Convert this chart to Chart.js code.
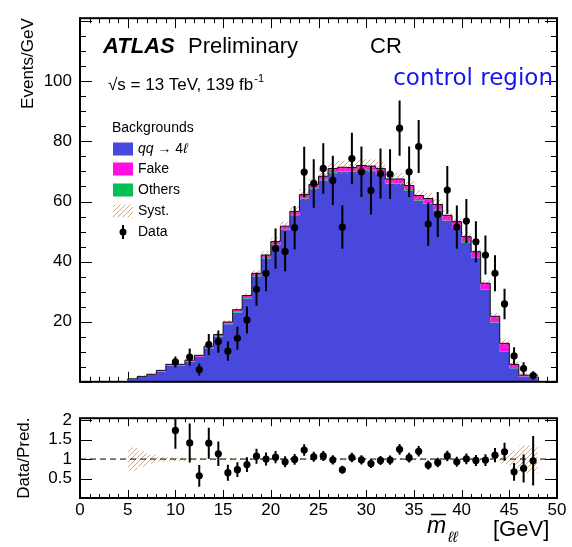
<!DOCTYPE html>
<html>
<head>
<meta charset="utf-8">
<script src="https://cdn.jsdelivr.net/npm/chart.js@4/dist/chart.umd.min.js"></script>
<style>
  html, body { margin: 0; padding: 0; background: #fff; }
  #wrap { position: relative; width: 572px; height: 547px; }
  #mainPanel { position: absolute; left: 0; top: 0; }
  #ratioPanel { position: absolute; left: 0; top: 400px; }
</style>
</head>
<body>
<div id="wrap">
  <canvas id="mainPanel" width="572" height="400"></canvas>
  <canvas id="ratioPanel" width="572" height="147"></canvas>
</div>
<script>
// Binning of the m_ll distribution (GeV); the 9-11 GeV bin is 2 GeV wide
const binEdges = [5,6,7,8,9,11,12,13,14,15,16,17,18,19,20,21,22,23,24,25,26,27,28,29,30,31,32,33,34,35,36,37,38,39,40,41,42,43,44,45,46,47,48];

// Background predictions, events/GeV per bin
const qq4lYield = [0.33,0.87,1.6,2.25,3.42,5.35,6.7,8.23,11.18,15.0,19.15,23.1,27.7,35.0,41.0,45.5,50.5,55.4,60.9,64.3,67.0,69.6,69.9,69.8,70.5,70.3,69.4,65.9,65.8,63.6,60.2,59.2,57.1,53.5,51.3,46.3,41.2,30.7,19.65,9.9,4.55,1.77];
const fakeYield = [0.05,0.1,0.15,0.2,0.3,0.35,0.4,0.45,0.5,0.55,0.6,0.7,0.8,0.9,1.0,1.0,1.1,1.1,1.2,1.2,1.2,1.2,1.3,1.3,1.3,1.3,1.4,1.4,1.5,1.5,1.6,1.6,1.7,1.7,1.8,1.8,1.9,1.9,2.0,2.8,1.2,0.4];
const othersYield = [0.02,0.03,0.05,0.05,0.08,0.1,0.1,0.12,0.12,0.15,0.15,0.2,0.2,0.2,0.2,0.2,0.2,0.2,0.2,0.2,0.2,0.2,0.2,0.2,0.2,0.2,0.2,0.2,0.2,0.2,0.2,0.2,0.2,0.2,0.2,0.2,0.2,0.2,0.15,0.1,0.05,0.03];

// Relative systematic uncertainty on the total prediction
const systRel = [0.35,0.3,0.2,0.12,0.06,0.05,0.03,0.03,0.03,0.03,0.03,0.03,0.03,0.03,0.03,0.03,0.03,0.03,0.03,0.03,0.03,0.03,0.03,0.03,0.03,0.03,0.03,0.03,0.03,0.03,0.03,0.03,0.03,0.03,0.03,0.03,0.03,0.03,0.05,0.12,0.22,0.35];

// Observed data (events/GeV) and statistical errors
const dataYield = [null,null,null,null,6.6,8.2,4.1,12.4,13.4,10.2,14.5,20.6,30.8,36.1,44.3,43.4,51.3,69.8,66.0,71.0,67.0,51.5,74.3,69.9,63.7,69.3,69.1,84.4,69.9,78.3,52.5,55.7,63.8,51.5,53.5,46.6,42.2,36.1,25.9,8.6,4.4,2.1];
const dataError = [null,null,null,null,1.8,2.9,2.0,3.5,3.7,3.2,3.8,4.5,5.5,6.0,6.7,6.6,7.2,8.4,8.1,8.4,8.2,7.2,8.6,8.4,8.0,8.3,8.3,9.2,8.4,8.8,7.2,7.5,8.0,7.2,7.3,6.8,6.5,6.0,5.1,2.9,2.1,1.4];

// Axis tick labels
const mainYTicks = [20,40,60,80,100];
const ratioYTicks = [0.5,1,1.5,2];
const xTicks = [0,5,10,15,20,25,30,35,40,45,50];

const COLORS = { qq4l: '#4848dc', fake: '#ff10e0', others: '#00c055', syst: 'rgba(195,140,80,0.75)' };
const FONT = '"Liberation Sans", Arial, Helvetica, sans-serif';
Chart.defaults.font.family = FONT;
Chart.defaults.color = '#000';

function hatchPattern(color) {
  const c = document.createElement('canvas');
  c.width = 5; c.height = 5;
  const g = c.getContext('2d');
  g.strokeStyle = color; g.lineWidth = 1;
  g.beginPath();
  g.moveTo(0, 5); g.lineTo(5, 0);
  g.moveTo(-1, 1); g.lineTo(1, -1);
  g.moveTo(4, 6); g.lineTo(6, 4);
  g.stroke();
  return g.createPattern(c, 'repeat');
}
const systHatch = hatchPattern(COLORS.syst);

// Cumulative stack and total
const stack1 = qq4lYield.slice();
const stack2 = stack1.map((v, i) => v + othersYield[i]);
const total = stack2.map((v, i) => v + fakeYield[i]);

function steps(values) {
  const pts = values.map((v, i) => ({ x: binEdges[i], y: v }));
  pts.push({ x: binEdges[binEdges.length - 1], y: values[values.length - 1] });
  return pts;
}
const binCenter = i => (binEdges[i] + binEdges[i + 1]) / 2;

const dataPts = [], dataErrs = [], ratioPts = [], ratioErrs = [];
dataYield.forEach((v, i) => {
  if (v === null) return;
  dataPts.push({ x: binCenter(i), y: v });
  dataErrs.push(dataError[i]);
  ratioPts.push({ x: binCenter(i), y: v / total[i] });
  ratioErrs.push(dataError[i] / total[i]);
});

// Vertical error bars on datasets that carry an "errors" list
const errorBars = {
  id: 'errorBars',
  afterDatasetsDraw(chart) {
    const { ctx, chartArea: a, scales: { x, y } } = chart;
    ctx.save();
    ctx.beginPath(); ctx.rect(a.left, a.top, a.right - a.left, a.bottom - a.top); ctx.clip();
    ctx.strokeStyle = '#000'; ctx.lineWidth = 2;
    chart.data.datasets.forEach(ds => {
      if (!ds.errors) return;
      ds.data.forEach((p, j) => {
        const px = x.getPixelForValue(p.x);
        ctx.beginPath();
        ctx.moveTo(px, y.getPixelForValue(p.y - ds.errors[j]));
        ctx.lineTo(px, y.getPixelForValue(p.y + ds.errors[j]));
        ctx.stroke();
      });
    });
    ctx.restore();
  }
};

// Inward ticks on all four sides plus the frame
function frameTicks(opt) {
  return {
    id: 'frameTicks',
    beforeDatasetsDraw(chart) {
      const { ctx, chartArea: a, scales: { x, y } } = chart;
      ctx.save();
      ctx.strokeStyle = '#000'; ctx.lineWidth = 1;
      ctx.beginPath();
      for (let v = 0; v <= 50; v += 1) {
        const px = Math.round(x.getPixelForValue(v)) + 0.5;
        const len = v % 5 === 0 ? opt.xMajor : opt.xMinor;
        ctx.moveTo(px, a.bottom); ctx.lineTo(px, a.bottom - len);
        ctx.moveTo(px, a.top); ctx.lineTo(px, a.top + len);
      }
      opt.yTickValues.forEach(v => {
        const py = Math.round(y.getPixelForValue(v)) + 0.5;
        const len = opt.isYMajor(v) ? opt.yMajor : opt.yMinor;
        ctx.moveTo(a.left, py); ctx.lineTo(a.left + len, py);
        ctx.moveTo(a.right, py); ctx.lineTo(a.right - len, py);
      });
      ctx.stroke();
      ctx.restore();
    },
    afterDatasetsDraw(chart) {
      const { ctx, chartArea: a } = chart;
      ctx.save();
      ctx.strokeStyle = '#000'; ctx.lineWidth = 2;
      ctx.strokeRect(a.left, a.top, a.right - a.left, a.bottom - a.top);
      ctx.restore();
    }
  };
}

const mainYTickValues = [];
for (let v = 0; v <= 120; v += 5) mainYTickValues.push(v);

// Labels and legend drawn in the upper panel
const mainText = {
  id: 'mainText',
  afterDraw(chart) {
    const ctx = chart.ctx;
    ctx.save();
    ctx.fillStyle = '#000';
    ctx.textBaseline = 'alphabetic';
    ctx.font = 'italic bold 22px ' + FONT;
    ctx.fillText('ATLAS', 103, 53);
    ctx.font = '22px ' + FONT;
    ctx.fillText('Preliminary', 188, 53);
    ctx.fillText('CR', 370, 53);
    ctx.font = '17px ' + FONT;
    ctx.fillText('\u221As = 13 TeV, 139 fb', 108, 90);
    const w = ctx.measureText('\u221As = 13 TeV, 139 fb').width;
    ctx.font = '11px ' + FONT;
    ctx.fillText('-1', 108 + w + 1, 82);
    ctx.fillStyle = '#1414ee';
    ctx.font = '23px "DejaVu Sans", sans-serif';
    ctx.textAlign = 'right';
    ctx.fillText('control region', 553, 85);
    ctx.textAlign = 'left';

    // legend
    ctx.fillStyle = '#000';
    ctx.font = '14px ' + FONT;
    ctx.textBaseline = 'middle';
    ctx.fillText('Backgrounds', 112, 128);
    const rows = [
      { y: 149, fill: COLORS.qq4l },
      { y: 169, fill: COLORS.fake, label: 'Fake' },
      { y: 190, fill: COLORS.others, label: 'Others' },
      { y: 211, fill: systHatch, label: 'Syst.' }
    ];
    rows.forEach(r => {
      ctx.fillStyle = r.fill;
      ctx.fillRect(113, r.y - 6.5, 20, 13);
      if (r.label) { ctx.fillStyle = '#000'; ctx.font = '14px ' + FONT; ctx.fillText(r.label, 138, r.y); }
    });
    ctx.fillStyle = '#000';
    let xx = 138;
    ctx.font = 'italic 14px ' + FONT;
    ctx.fillText('qq', xx, 149); xx += ctx.measureText('qq').width;
    ctx.font = '14px ' + FONT;
    ctx.fillText(' \u2192 4', xx, 149); xx += ctx.measureText(' \u2192 4').width;
    ctx.font = 'italic 14px ' + FONT;
    ctx.fillText('\u2113', xx, 149);
    ctx.font = '14px ' + FONT;
    ctx.fillText('Data', 138, 232);
    ctx.beginPath(); ctx.arc(123, 232, 3.5, 0, Math.PI * 2); ctx.fill();
    ctx.lineWidth = 2;
    ctx.beginPath(); ctx.moveTo(123, 225); ctx.lineTo(123, 239); ctx.stroke();
    ctx.restore();
  }
};

// Axis title of the lower panel
const ratioText = {
  id: 'ratioText',
  afterDraw(chart) {
    const ctx = chart.ctx;
    ctx.save();
    ctx.fillStyle = '#000'; ctx.strokeStyle = '#000';
    ctx.textBaseline = 'alphabetic';
    ctx.font = 'italic 23px ' + FONT;
    ctx.fillText('m', 427, 133);
    ctx.lineWidth = 1.5;
    ctx.beginPath(); ctx.moveTo(431, 114.5); ctx.lineTo(446, 114.5); ctx.stroke();
    ctx.font = 'italic 15px ' + FONT;
    ctx.fillText('\u2113\u2113', 448, 142);
    ctx.font = '22px ' + FONT;
    ctx.fillText('[GeV]', 493, 136);
    ctx.restore();
  }
};

// Higher "order" is drawn first, so the stack sits below the data
const stepLine = (data, extra) => Object.assign({
  data: steps(data), stepped: 'after', pointRadius: 0, borderWidth: 0, tension: 0
}, extra);

new Chart(document.getElementById('mainPanel'), {
  type: 'line',
  data: {
    datasets: [
      stepLine(stack1, { label: 'qq4l', backgroundColor: COLORS.qq4l, fill: 'origin', order: 7 }),
      stepLine(stack2, { label: 'Others', backgroundColor: COLORS.others, fill: '-1', order: 6 }),
      stepLine(total, { label: 'Fake', backgroundColor: COLORS.fake, fill: '-1', order: 5 }),
      stepLine(total.map((v, i) => v * (1 - systRel[i])), { label: 'systLow', fill: false, order: 4 }),
      stepLine(total.map((v, i) => v * (1 + systRel[i])), { label: 'Syst.', backgroundColor: systHatch, fill: '-1', order: 3 }),
      stepLine(total, { label: 'total', borderColor: '#111', borderWidth: 1, fill: false, order: 2 }),
      { label: 'Data', data: dataPts, errors: dataErrs, showLine: false, pointRadius: 3.6, order: 1,
        pointBackgroundColor: '#000', pointBorderWidth: 0, pointHoverRadius: 3.6 }
    ]
  },
  options: {
    responsive: false, animation: false, events: [],
    layout: { padding: { top: 11, right: 15, bottom: 5, left: 0 } },
    plugins: { legend: { display: false }, tooltip: { enabled: false } },
    scales: {
      x: { type: 'linear', min: 0, max: 50, display: false },
      y: {
        type: 'linear', min: 0, max: 121,
        afterFit: s => { s.width = 80; },
        afterBuildTicks: s => { s.ticks = mainYTicks.map(v => ({ value: v })); },
        ticks: { font: { size: 17 }, color: '#000', padding: 8 },
        grid: { display: false, drawTicks: false },
        border: { display: false },
        title: { display: true, text: 'Events/GeV', align: 'end', font: { size: 17 }, color: '#000', padding: { top: 18, bottom: 0 } }
      }
    }
  },
  plugins: [frameTicks({ xMajor: 10, xMinor: 5, yMajor: 12, yMinor: 6, yTickValues: mainYTickValues, isYMajor: v => v % 20 === 0 }), errorBars, mainText]
});

new Chart(document.getElementById('ratioPanel'), {
  type: 'line',
  data: {
    datasets: [
      stepLine(systRel.map(s => 1 - s), { label: 'systLow', fill: false, order: 4 }),
      stepLine(systRel.map(s => 1 + s), { label: 'Syst.', backgroundColor: systHatch, fill: '-1', order: 3 }),
      { label: 'unity', data: [{ x: 0, y: 1 }, { x: 50, y: 1 }], borderColor: '#000', borderWidth: 1,
        borderDash: [6, 4], pointRadius: 0, fill: false, order: 2 },
      { label: 'Data/Pred.', data: ratioPts, errors: ratioErrs, showLine: false, pointRadius: 3.6, order: 1,
        pointBackgroundColor: '#000', pointBorderWidth: 0, pointHoverRadius: 3.6 }
    ]
  },
  options: {
    responsive: false, animation: false, events: [],
    layout: { padding: { top: 9, right: 15, bottom: 0, left: 0 } },
    plugins: { legend: { display: false }, tooltip: { enabled: false } },
    scales: {
      x: {
        type: 'linear', min: 0, max: 50,
        afterFit: s => { s.height = 49; },
        afterBuildTicks: s => { s.ticks = xTicks.map(v => ({ value: v })); },
        ticks: { font: { size: 17 }, color: '#000', padding: 2, maxRotation: 0 },
        grid: { display: false, drawTicks: false },
        border: { display: false }
      },
      y: {
        type: 'linear', min: 0, max: 2.05,
        afterFit: s => { s.width = 80; },
        afterBuildTicks: s => { s.ticks = ratioYTicks.map(v => ({ value: v })); },
        ticks: { font: { size: 17 }, color: '#000', padding: 8, callback: v => String(v) },
        grid: { display: false, drawTicks: false },
        border: { display: false },
        title: { display: true, text: 'Data/Pred.', font: { size: 17 }, color: '#000', padding: { top: 14, bottom: 0 } }
      }
    }
  },
  plugins: [frameTicks({ xMajor: 8, xMinor: 4, yMajor: 12, yMinor: 12, yTickValues: ratioYTicks, isYMajor: () => true }), errorBars, ratioText]
});
</script>
</body>
</html>
